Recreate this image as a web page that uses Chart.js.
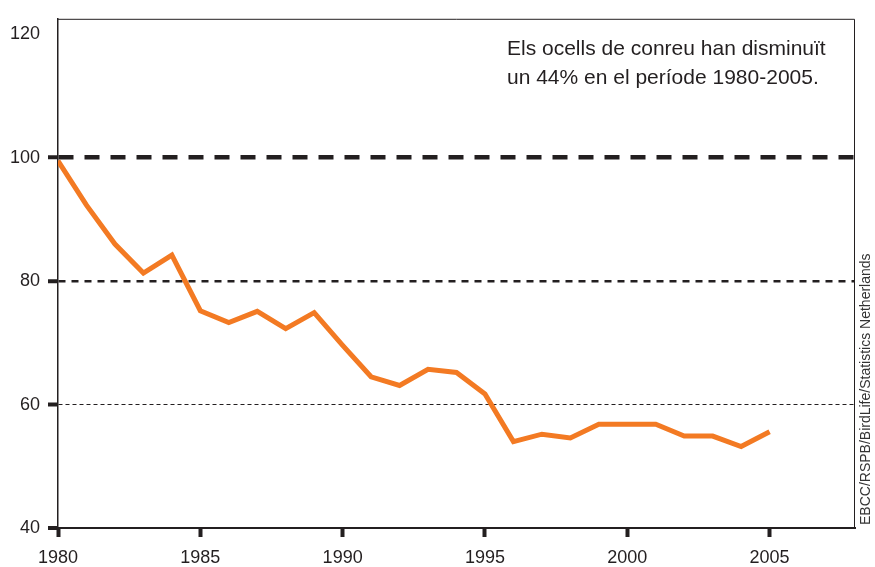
<!DOCTYPE html>
<html>
<head>
<meta charset="utf-8">
<script src="https://cdn.jsdelivr.net/npm/chart.js@4.4.1/dist/chart.umd.min.js"></script>
<style>
  html, body { margin: 0; padding: 0; background: #fff; }
  #wrap { width: 875px; height: 567px; }
</style>
</head>
<body>
<div id="wrap"><canvas id="grafic"></canvas></div>
<script>
// dades: índex d'ocells de conreu (1980 = 100)
const anys = [1980, 1981, 1982, 1983, 1984, 1985, 1986, 1987, 1988, 1989,
              1990, 1991, 1992, 1993, 1994, 1995, 1996, 1997, 1998, 1999,
              2000, 2001, 2002, 2003, 2004, 2005];
const index = [99.5, 92.3, 86.0, 81.3, 84.2, 75.2, 73.3, 75.1, 72.3, 74.9,
               69.6, 64.5, 63.1, 65.7, 65.2, 61.7, 54.0, 55.2, 54.6, 56.8,
               56.8, 56.8, 54.9, 54.9, 53.2, 55.6];
const ticksY = [40, 60, 80, 100, 120];
const ticksX = [1980, 1985, 1990, 1995, 2000, 2005];
const nota = ['Els ocells de conreu han disminuït', 'un 44% en el període 1980-2005.'];
const font = 'Liberation Sans, Arial, sans-serif';
const negre = '#231f20';

// estil de cada línia horitzontal
const estilLinia = (v) => {
    if (v === 100) return { w: 4.5, dash: [15, 11] };
    if (v === 80) return { w: 2.5, dash: [7, 6] };
    if (v === 60) return { w: 1, dash: [4, 3] };
    return { w: 0, dash: [] };
};

// marc, nota i font de les dades
const extres = {
    id: 'extres',
    afterDraw(chart) {
        const { ctx, chartArea: a } = chart;
        ctx.save();
        ctx.strokeStyle = negre;
        ctx.lineWidth = 1;
        ctx.beginPath();
        ctx.moveTo(a.left, a.top + 0.5);
        ctx.lineTo(a.right - 0.5, a.top + 0.5);
        ctx.lineTo(a.right - 0.5, a.bottom);
        ctx.stroke();

        ctx.fillStyle = negre;
        ctx.font = '21px ' + font;
        ctx.textBaseline = 'middle';
        ctx.textAlign = 'left';
        ctx.fillText(nota[0], 507, 49);
        ctx.fillText(nota[1], 507, 78);

        ctx.translate(866, 525);
        ctx.rotate(-Math.PI / 2);
        ctx.font = '14px ' + font;
        ctx.fillStyle = '#333';
        ctx.fillText('EBCC/RSPB/BirdLife/Statistics Netherlands', 0, 0);
        ctx.restore();
    },
};

new Chart(document.getElementById('grafic'), {
    type: 'line',
    data: {
        labels: anys,
        datasets: [{
            data: anys.map((a, i) => ({ x: a, y: index[i] })),
            borderColor: '#f37a23',
            borderWidth: 5,
            pointRadius: 0,
            tension: 0,
            borderJoinStyle: 'miter',
        }],
    },
    options: {
        responsive: true,
        maintainAspectRatio: false,
        animation: false,
        layout: { padding: { top: 14, right: 20, left: 0, bottom: 0 } },
        plugins: { legend: { display: false }, tooltip: { enabled: false } },
        scales: {
            x: {
                type: 'linear',
                min: 1980,
                max: 2008,
                afterBuildTicks: (s) => { s.ticks = ticksX.map((v) => ({ value: v })); },
                afterFit: (s) => { s.height = 39; },
                ticks: {
                    callback: (v) => String(v),
                    color: negre,
                    font: { family: font, size: 18 },
                    padding: 10,
                    maxRotation: 0,
                },
                grid: {
                    drawOnChartArea: false,
                    tickLength: 9,
                    tickWidth: 4,
                    tickColor: negre,
                },
                border: { display: true, color: negre, width: 2 },
            },
            y: {
                min: 40,
                max: 122.5,
                afterBuildTicks: (s) => { s.ticks = ticksY.map((v) => ({ value: v })); },
                afterFit: (s) => { s.width = 58; },
                ticks: {
                    color: negre,
                    font: { family: font, size: 18 },
                    padding: 8,
                },
                grid: {
                    tickLength: 10,
                    lineWidth: (c) => (c.tick ? estilLinia(c.tick.value).w : 0),
                    color: (c) => (c.tick && estilLinia(c.tick.value).w ? negre : 'rgba(0,0,0,0)'),
                    tickWidth: 4,
                    tickColor: (c) => (c.tick && c.tick.value === 120 ? 'rgba(0,0,0,0)' : negre),
                    tickBorderDash: [],
                },
                border: {
                    display: true,
                    color: negre,
                    width: 1.5,
                    dash: (c) => (c.tick ? estilLinia(c.tick.value).dash : []),
                },
            },
        },
    },
    plugins: [extres],
});
</script>
</body>
</html>
